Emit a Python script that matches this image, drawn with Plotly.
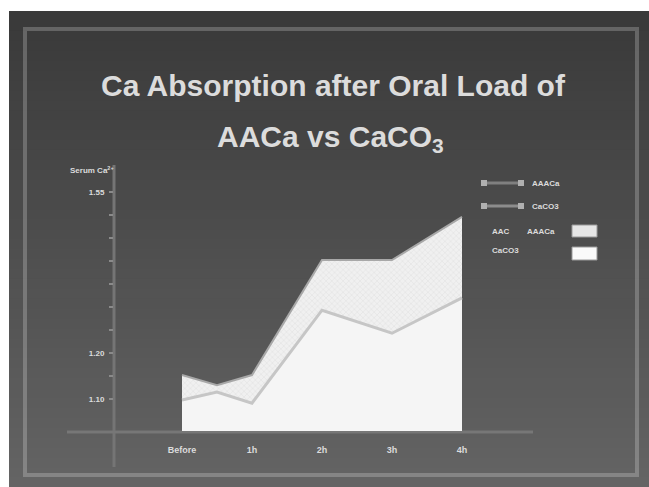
import plotly.graph_objects as go

# ---- data ----
hours = [0, 0.5, 1, 2, 3, 4]
aaca = [1.152, 1.130, 1.152, 1.402, 1.402, 1.496]
caco3 = [1.098, 1.115, 1.091, 1.293, 1.243, 1.320]
x_tickvals = [0, 1, 2, 3, 4]
x_ticktext = ["Before", "1h", "2h", "3h", "4h"]
y_tickvals = [1.10, 1.20, 1.55]
y_ticktext = ["1.10", "1.20", "1.55"]
y_minorvals = [1.15, 1.25, 1.30, 1.35, 1.40, 1.45, 1.50]

W, H = 649, 487
L, R, T, B = 114, 533, 165, 431  # plot area in pixels


def px(xp):
    return (xp - L) / (R - L)


def py(yp):
    return (B - yp) / (B - T)


fig = go.Figure()

fig.add_trace(go.Scatter(
    x=hours, y=aaca, mode="lines", name="AAACa",
    line=dict(color="#a8a8a8", width=2),
    fill="tozeroy", fillcolor="#ececec",
    fillpattern=dict(shape="x", fgcolor="#d6d6d6", bgcolor="#f0f0f0", size=4, solidity=0.3),
    showlegend=False,
))
fig.add_trace(go.Scatter(
    x=hours, y=caco3, mode="lines", name="CaCO3",
    line=dict(color="#c6c6c6", width=3),
    fill="tozeroy", fillcolor="#f5f5f5",
    showlegend=False,
))

shapes = []
# gradient slide background
n = 48
y0 = 11
for i in range(n):
    a = y0 + (H - y0) * i / n
    b = y0 + (H - y0) * (i + 1) / n + 1
    t = i / (n - 1)
    c = int(0x3a + (0x64 - 0x3a) * t)
    shapes.append(dict(type="rect", xref="paper", yref="paper",
                       x0=px(9), x1=px(W + 2), y0=py(a), y1=py(b),
                       fillcolor=f"rgb({c},{c},{c})", line=dict(width=0), layer="below"))
# frame
shapes.append(dict(type="rect", xref="paper", yref="paper",
                   x0=px(25), x1=px(637), y0=py(29), y1=py(475),
                   line=dict(color="rgba(255,255,255,0.22)", width=4), layer="below"))
# axes (crossing lines)
shapes.append(dict(type="line", xref="paper", yref="paper",
                   x0=px(114), x1=px(114), y0=py(165), y1=py(467),
                   line=dict(color="#757575", width=3), layer="below"))
shapes.append(dict(type="line", xref="paper", yref="paper",
                   x0=px(67), x1=px(533), y0=py(432), y1=py(432),
                   line=dict(color="#777777", width=3), layer="below"))

# legend samples
for yy, col in [(183, "#808080"), (206, "#8c8c8c")]:
    shapes.append(dict(type="line", xref="paper", yref="paper",
                       x0=px(482), x1=px(523), y0=py(yy), y1=py(yy),
                       line=dict(color=col, width=3)))
    for xx in (484, 521):
        shapes.append(dict(type="rect", xref="paper", yref="paper",
                           x0=px(xx - 3), x1=px(xx + 3), y0=py(yy - 3), y1=py(yy + 3),
                           fillcolor="#b0b0b0", line=dict(width=0)))
shapes.append(dict(type="rect", xref="paper", yref="paper",
                   x0=px(572), x1=px(597), y0=py(225), y1=py(237),
                   fillcolor="#e6e6e6", line=dict(color="#9a9a9a", width=1)))
shapes.append(dict(type="rect", xref="paper", yref="paper",
                   x0=px(572), x1=px(597), y0=py(247), y1=py(260),
                   fillcolor="#fafafa", line=dict(color="#9a9a9a", width=1)))

tf = dict(family="Liberation Sans", color="#dcdcdc")
annotations = [
    dict(text="<b>Ca Absorption after Oral Load of</b>", x=px(333), y=py(86),
         xref="paper", yref="paper", showarrow=False,
         font=dict(size=30, **tf), xanchor="center", yanchor="middle"),
    dict(text="<b>AACa vs CaCO<sub>3</sub></b>", x=px(330), y=py(138),
         xref="paper", yref="paper", showarrow=False,
         font=dict(size=30, **tf), xanchor="center", yanchor="middle"),
    dict(text="<b>Serum Ca<sup>2+</sup></b>", x=px(92), y=py(170),
         xref="paper", yref="paper", showarrow=False,
         font=dict(size=8, **tf), xanchor="center", yanchor="middle"),
    dict(text="<b>AAACa</b>", x=px(530), y=py(183), xref="paper", yref="paper",
         showarrow=False, font=dict(size=8, **tf), xanchor="left", yanchor="middle"),
    dict(text="<b>CaCO3</b>", x=px(530), y=py(206), xref="paper", yref="paper",
         showarrow=False, font=dict(size=8, **tf), xanchor="left", yanchor="middle"),
    dict(text="<b>AAC</b>", x=px(490), y=py(231), xref="paper", yref="paper",
         showarrow=False, font=dict(size=8, **tf), xanchor="left", yanchor="middle"),
    dict(text="<b>AAACa</b>", x=px(525), y=py(231), xref="paper", yref="paper",
         showarrow=False, font=dict(size=8, **tf), xanchor="left", yanchor="middle"),
    dict(text="<b>CaCO3</b>", x=px(490), y=py(250), xref="paper", yref="paper",
         showarrow=False, font=dict(size=8, **tf), xanchor="left", yanchor="middle"),
]

# x: Before at 182px, 70px per hour
xr0 = (L - 182) / 70
xr1 = (R - 182) / 70
# y: 1.10 at 399px, 0.05 per 23px
yr0 = 1.10 - (B - 399) * 0.05 / 23
yr1 = 1.10 + (399 - T) * 0.05 / 23

fig.update_layout(
    width=W, height=H,
    margin=dict(l=L, r=W - R, t=T, b=H - B, pad=0),
    paper_bgcolor="white", plot_bgcolor="rgba(0,0,0,0)",
    shapes=shapes, annotations=annotations,
    showlegend=False,
    xaxis=dict(range=[xr0, xr1], tickvals=x_tickvals, ticktext=[f"<b>{t}</b>" for t in x_ticktext],
               showgrid=False, zeroline=False, showline=False, ticks="",
               ticklabelstandoff=12, tickfont=dict(size=9, **tf)),
    yaxis=dict(range=[yr0, yr1], tickvals=y_tickvals, ticktext=[f"<b>{t}</b>" for t in y_ticktext],
               showgrid=False, zeroline=False, showline=False, ticks="outside",
               ticklen=4, tickwidth=2, tickcolor="#8a8a8a",
               minor=dict(tickvals=y_minorvals, ticks="outside", ticklen=4, tickwidth=2,
                          tickcolor="#8a8a8a", showgrid=False),
               ticklabelstandoff=3, tickfont=dict(size=8, **tf)),
)

fig.write_html("out.html")
